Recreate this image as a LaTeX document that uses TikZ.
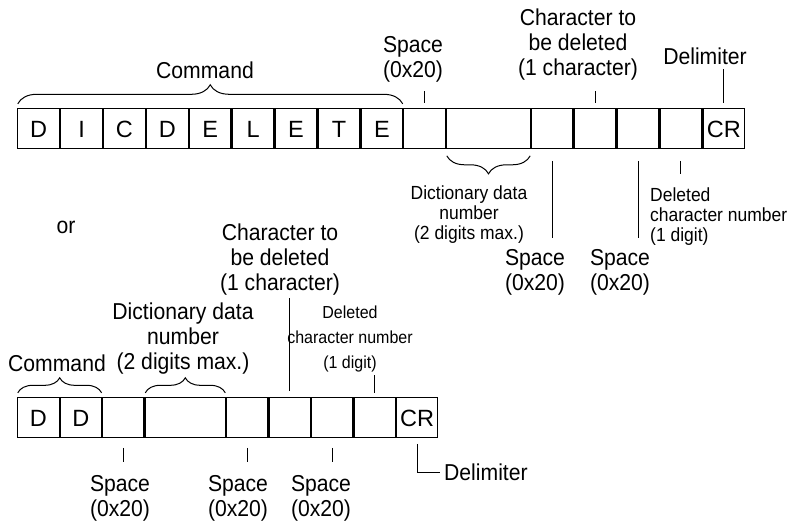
\documentclass[tikz,border=0pt]{standalone}
\usepackage{fontspec}
\setmainfont{Liberation Sans}
\newfontfamily\lblfont{Liberation Sans}[FakeStretch=0.92]
\usetikzlibrary{matrix, positioning, decorations.pathreplacing}

\begin{document}
\begin{tikzpicture}[x=1pt, y=-1pt,
  cell/.style={draw, line width=1.2pt, outer sep=0pt, inner sep=0pt, minimum height=40pt, text height=16.8pt, text depth=0pt, font=\fontsize{23.5}{25}\selectfont},
  lbl/.style={inner sep=0pt, align=center, font=\lblfont\fontsize{23}{25}\selectfont},
  small/.style={inner sep=0pt, align=center, font=\lblfont\fontsize{19}{20}\selectfont},
  smaller/.style={inner sep=0pt, align=center, font=\lblfont\fontsize{17.4}{25}\selectfont},
  tick/.style={line width=1pt},
  brc/.style={line width=1pt, decorate, decoration={brace, amplitude=#1, raise=5pt}}]
  \useasboundingbox (0,0) rectangle (796,522);
  \matrix (top) [matrix of nodes, nodes in empty cells, anchor=north west, inner sep=0pt, column sep=0pt, nodes={cell, minimum width=41.7pt}] at (17,108) {
    D & I & C & D & E & L & E & T & E & & |[minimum width=83.4pt]| & & & & & CR \\
  };
  \matrix (bot) [matrix of nodes, nodes in empty cells, anchor=north west, inner sep=0pt, column sep=0pt, nodes={cell, minimum width=41.3pt}] at (17,397) {
    D & D & & |[minimum width=80pt]| & & & & & CR \\
  };
  \node (cmd) [lbl] at (205,70) {Command};
  \node (sp) [lbl] at (413,59.5) {Space\\(0x20)};
  \node (chr) [lbl] at (578,45) {Character to\\be deleted\\(1 character)};
  \node (dlm) [lbl] at (705,56) {Delimiter};
  \node (dic) [small] at (469,215) {Dictionary data\\number\\(2 digits max.)};
  \node (spa) [lbl] at (535,272) {Space\\(0x20)};
  \node (spb) [lbl] at (620,272) {Space\\(0x20)};
  \node (del) [small, anchor=west, align=left] at (650,217) {Deleted\\character number\\(1 digit)};
  \node (or) [lbl] at (66,227) {or};
  \node (chr2) [lbl] at (280,260) {Character to\\be deleted\\(1 character)};
  \node (dic2) [lbl] at (183,339) {Dictionary data\\number\\(2 digits max.)};
  \node (cmd2) [lbl, anchor=west] at (8,363) {Command};
  \node (del2) [smaller] at (350,339) {Deleted\\character number\\(1 digit)};
  \node (spc) [lbl] at (120,498) {Space\\(0x20)};
  \node (spd) [lbl] at (238,498) {Space\\(0x20)};
  \node (spe) [lbl] at (321,498) {Space\\(0x20)};
  \node (dlm2) [lbl, anchor=west] at (444,472) {Delimiter};
  \draw [brc=19pt] (top-1-1.north west) -- (top-1-9.north east);
  \draw [brc=18pt, decoration={raise=7pt}] (top-1-11.south east) -- (top-1-11.south west);
  \draw [brc=15pt] (bot-1-1.north west) -- (bot-1-2.north east);
  \draw [brc=15pt] (bot-1-4.north west) -- (bot-1-4.north east);
  \draw [tick, shorten <=6pt, shorten >=8pt] (top-1-10.north) -- (top-1-10.north |- sp.south);
  \draw [tick, shorten <=6pt, shorten >=10pt] (top-1-13.north) -- (top-1-13.north |- chr.south);
  \draw [tick, shorten <=6pt, shorten >=4.5pt] (top-1-16.north) -- (top-1-16.north |- dlm.south);
  \draw [tick, shorten <=12pt, shorten >=10.5pt] (top-1-12.south) -- (top-1-12.south |- spa.north);
  \draw [tick, shorten <=12pt, shorten >=10.5pt] (top-1-14.south) -- (top-1-14.south |- spb.north);
  \draw [tick, shorten <=12pt, shorten >=13.6pt] (top-1-15.south) -- (top-1-15.south |- del.north);
  \draw [tick, shorten <=7pt, shorten >=2pt] (bot-1-6.north) -- (bot-1-6.north |- chr2.south);
  \draw [tick, shorten <=5pt, shorten >=3pt] (bot-1-8.north) -- (bot-1-8.north |- del2.south);
  \draw [tick, shorten <=10pt, shorten >=12.5pt] (bot-1-3.south) -- (bot-1-3.south |- spc.north);
  \draw [tick, shorten <=10pt, shorten >=12.5pt] (bot-1-5.south) -- (bot-1-5.south |- spd.north);
  \draw [tick, shorten <=10pt, shorten >=12.5pt] (bot-1-7.south) -- (bot-1-7.south |- spe.north);
  \draw [tick, shorten <=6pt, shorten >=4pt] (bot-1-9.south) |- (dlm2.west);
\end{tikzpicture}
\end{document}
